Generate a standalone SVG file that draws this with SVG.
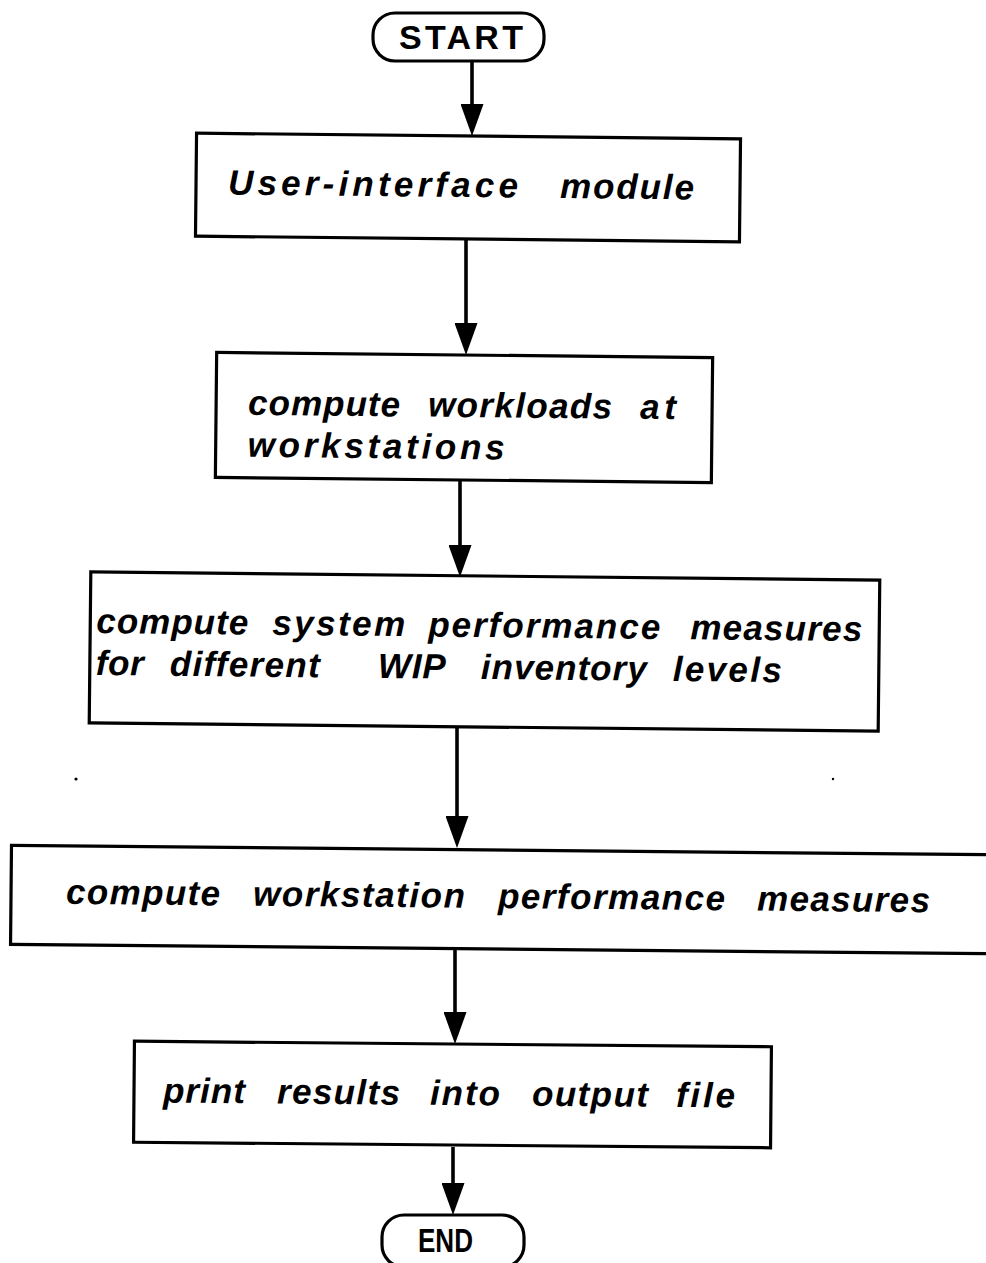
<svg xmlns="http://www.w3.org/2000/svg" width="986" height="1263" viewBox="0 0 986 1263">
<style>
.box{fill:none;stroke:#000;stroke-width:3.2}
.term{fill:none;stroke:#000;stroke-width:3.2}
.t{font-family:"Liberation Sans",Arial,Helvetica,sans-serif;font-weight:bold;font-style:italic;font-size:35px;fill:#000}
.tt{font-family:"Liberation Sans",Arial,Helvetica,sans-serif;font-weight:bold;font-size:34px;fill:#000}
.c{stroke:#000;stroke-width:3.6;fill:none}
</style>
<defs>
<marker id="ah" viewBox="0 0 32 23" refX="22" refY="11.5" markerWidth="32" markerHeight="23" markerUnits="userSpaceOnUse" orient="auto">
<path d="M0,0 L32,11.5 L0,23 Z" fill="#000"/>
</marker>
</defs>
<rect width="986" height="1263" fill="#fff"/>

<g id="start">
<rect class="term" x="373" y="13" width="171" height="48" rx="22" ry="22"/>
<text class="tt" x="399" y="49" textLength="124" lengthAdjust="spacing">START</text>
</g>

<g id="n1" transform="rotate(0.6 468 188)">
<rect class="box" x="196" y="136" width="544" height="103"/>
<text class="t" y="197"><tspan x="228" textLength="290" lengthAdjust="spacing">User-interface</tspan><tspan x="560" textLength="134" lengthAdjust="spacing">module</tspan></text>
</g>

<g id="n2" transform="rotate(0.6 464 418)">
<rect class="box" x="216" y="355" width="496" height="125"/>
<text class="t" y="417"><tspan x="248" textLength="152" lengthAdjust="spacing">compute</tspan><tspan x="428" textLength="184" lengthAdjust="spacing">workloads</tspan><tspan x="640" textLength="36" lengthAdjust="spacing">at</tspan></text>
<text class="t" y="459"><tspan x="248" textLength="257" lengthAdjust="spacing">workstations</tspan></text>
</g>

<g id="n3" transform="rotate(0.6 484 651)">
<rect class="box" x="90" y="576" width="789" height="151"/>
<text class="t" y="637"><tspan x="96" textLength="152" lengthAdjust="spacing">compute</tspan><tspan x="272" textLength="133" lengthAdjust="spacing">system</tspan><tspan x="428" textLength="232" lengthAdjust="spacing">performance</tspan><tspan x="690" textLength="172" lengthAdjust="spacing">measures</tspan></text>
<text class="t" y="679"><tspan x="96" textLength="48" lengthAdjust="spacing">for</tspan><tspan x="170" textLength="150" lengthAdjust="spacing">different</tspan><tspan x="378" textLength="68" lengthAdjust="spacing">WIP</tspan><tspan x="481" textLength="166" lengthAdjust="spacing">inventory</tspan><tspan x="673" textLength="109" lengthAdjust="spacing">levels</tspan></text>
</g>

<g id="n4" transform="rotate(0.55 498 899)">
<rect class="box" x="11" y="850" width="1010" height="99"/>
<text class="t" y="908"><tspan x="66" textLength="154" lengthAdjust="spacing">compute</tspan><tspan x="253" textLength="212" lengthAdjust="spacing">workstation</tspan><tspan x="498" textLength="227" lengthAdjust="spacing">performance</tspan><tspan x="757" textLength="173" lengthAdjust="spacing">measures</tspan></text>
</g>

<g id="n5" transform="rotate(0.5 452 1094)">
<rect class="box" x="134" y="1044" width="637" height="101"/>
<text class="t" y="1105"><tspan x="163" textLength="82" lengthAdjust="spacing">print</tspan><tspan x="277" textLength="123" lengthAdjust="spacing">results</tspan><tspan x="430" textLength="70" lengthAdjust="spacing">into</tspan><tspan x="532" textLength="116" lengthAdjust="spacing">output</tspan><tspan x="676" textLength="59" lengthAdjust="spacing">file</tspan></text>
</g>

<g id="end">
<rect class="term" x="382" y="1215" width="142" height="52" rx="22" ry="22"/>
<text class="tt" x="418" y="1252" font-size="32" textLength="55" lengthAdjust="spacingAndGlyphs">END</text>
</g>

<g id="connectors">
<line class="c" x1="472" y1="61" x2="472" y2="126" marker-end="url(#ah)"/>
<line class="c" x1="466" y1="240" x2="466" y2="345" marker-end="url(#ah)"/>
<line class="c" x1="460" y1="481" x2="460" y2="567" marker-end="url(#ah)"/>
<line class="c" x1="457" y1="728" x2="457" y2="838" marker-end="url(#ah)"/>
<line class="c" x1="455" y1="949" x2="455" y2="1034" marker-end="url(#ah)"/>
<line class="c" x1="453" y1="1147" x2="453" y2="1205" marker-end="url(#ah)"/>
</g>

<circle cx="76" cy="779" r="1.6" fill="#000"/>
<circle cx="833" cy="779" r="1.2" fill="#000"/>
</svg>
